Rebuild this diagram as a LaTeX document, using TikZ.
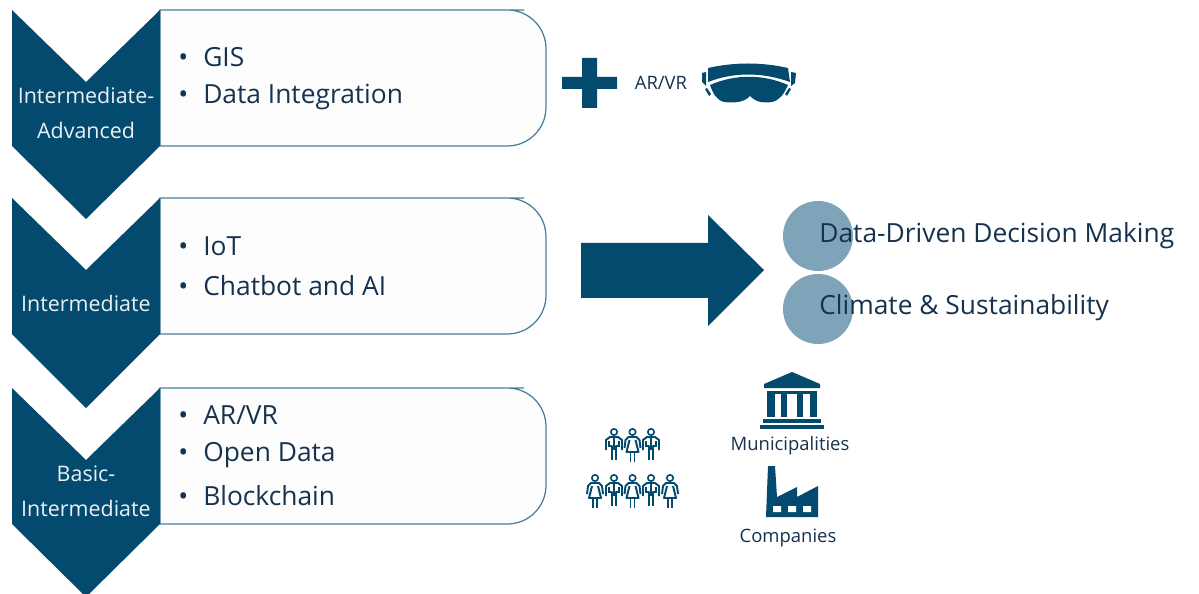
\documentclass[tikz,border=0pt]{standalone}
\usepackage{fontspec}
\setmainfont{Open Sans}
\usetikzlibrary{positioning}
\definecolor{drkblue}{RGB}{4,74,111}
\definecolor{edgeblue}{RGB}{72,125,156}
\definecolor{txtblue}{RGB}{22,50,79}
\definecolor{circblue}{RGB}{127,163,185}
\definecolor{boxfill}{RGB}{253,253,253}
\newcommand{\itm}[1]{\makebox[14.2pt][l]{\textbullet}#1}
\tikzset{
  chevron/.style={fill=drkblue, draw=none},
  itembox/.style={fill=boxfill, draw=edgeblue, line width=.7pt},
  itemtext/.style={anchor=west, inner sep=0pt, text=txtblue, font=\fontsize{15}{15}\selectfont},
  levellabel/.style={align=center, inner sep=0pt, text=white!92!drkblue, font=\fontsize{12.2}{20}\selectfont},
  bigtext/.style={anchor=west, inner sep=0pt, text=txtblue, font=\fontsize{15}{15}\selectfont},
  smalltext/.style={inner sep=0pt, text=txtblue, font=\fontsize{10.5}{12}\selectfont},
  icon/.style={fill=drkblue, draw=none},
  man/.pic={
    \draw [drkblue, line width=.9pt] (0,-17) circle (3.2);
    \draw [drkblue, line width=1.1pt, line join=round] (-2,11) -- (-2,-3) -- (-6,-3) (2,11) -- (2,-3) -- (6,-3);
    \draw [drkblue, line width=1.1pt, line join=round] (-8,1) -- (-8,-9) -- (-4,-12) -- (4,-12) -- (8,-9) -- (8,1);
    \draw [drkblue, line width=1.1pt] (-5,-8) -- (-5,-2) (5,-8) -- (5,-2);
    \draw [drkblue, line width=1.1pt] (0,-12) -- (0,1);
  },
  woman/.pic={
    \draw [drkblue, line width=.9pt] (0,-17) circle (3.2);
    \draw [drkblue, line width=1.1pt, line join=round] (-8,-1) -- (-7,-9) -- (-4,-12) -- (4,-12) -- (7,-9) -- (8,-1);
    \draw [drkblue, line width=1.1pt, line join=round] (-3,-9) -- (-6,3) -- (6,3) -- (3,-9);
    \draw [drkblue, line width=1.1pt] (-2,3) -- (-2,13) (2,3) -- (2,13);
  }
}
\begin{document}
\begin{tikzpicture}[x=0.02cm,y=-0.02cm]
     \useasboundingbox (0,0) rectangle (1199,594);
     \fill [white] (0,0) rectangle (1199,594);

     % three levels
     \draw [itembox] (160,10) -- (524,10) [rounded corners=22pt] -- (546,10) -- (546,146) [sharp corners] -- (160,146) -- cycle;
     \fill [chevron] (12,10) -- (86,82) -- (160,10) -- (160,146) -- (86,219) -- (12,146) -- cycle;
     \node (gis) [itemtext] at (178,57) {\itm{GIS}};
     \node (integration) [itemtext] at (178,97) {\itm{Data Integration}};
     \node (advanced) [levellabel] at (86,113) {Intermediate-\\Advanced};

     \draw [itembox] (160,198) -- (524,198) [rounded corners=22pt] -- (546,198) -- (546,334) [sharp corners] -- (160,334) -- cycle;
     \fill [chevron] (12,198) -- (86,270) -- (160,198) -- (160,334) -- (86,408) -- (12,334) -- cycle;
     \node (iot) [itemtext] at (178,246) {\itm{IoT}};
     \node (chatbot) [itemtext] at (178,286) {\itm{Chatbot and AI}};
     \node (intermediate) [levellabel] at (86,303) {Intermediate};

     \draw [itembox] (160,388) -- (524,388) [rounded corners=22pt] -- (546,388) -- (546,524) [sharp corners] -- (160,524) -- cycle;
     \fill [chevron] (12,388) -- (86,460) -- (160,388) -- (160,524) -- (86,597) -- (12,524) -- cycle;
     \node (arvr) [itemtext] at (178,415) {\itm{AR/VR}};
     \node (opendata) [itemtext] at (178,455) {\itm{Open Data}};
     \node (blockchain) [itemtext] at (178,496) {\itm{Blockchain}};
     \node (basic) [levellabel] at (86,491) {Basic-\\Intermediate};

     % plus and goggles
     \fill [icon] (562,77) -- (582,77) -- (582,58) -- (597,58) -- (597,77) -- (617,77) -- (617,89) -- (597,89) -- (597,108) -- (582,108) -- (582,89) -- (562,89) -- cycle;
     \node (goggletext) [smalltext] at (661,83) {AR/VR};
     \fill [icon] (708,68) .. controls (735,62) and (761,62) .. (788,68) -- (790,82) .. controls (762,72) and (734,72) .. (708,82) -- cycle;
     \fill [icon] (710,85) .. controls (735,74) and (763,74) .. (788,85) .. controls (784,94) and (780,100) .. (772,102) .. controls (764,103) and (757,103) .. (750,96) .. controls (744,103) and (732,103) .. (724,102) .. controls (716,100) and (713,93) .. (710,85) -- cycle;
     \fill [icon] (702,73) -- (706,72) -- (706,86) -- (702,82) -- cycle;
     \fill [icon] (791,72) -- (796,73) -- (795,83) -- (791,86) -- cycle;
     \fill [icon] (705,89) -- (707,88) -- (711,94) -- (709,96) -- cycle;
     \fill [icon] (791,89) -- (789,88) -- (785,94) -- (787,96) -- cycle;

     % big arrow and outcomes
     \fill [icon] (581,243) -- (708,243) -- (708,215) -- (764,270) -- (708,326) -- (708,298) -- (581,298) -- cycle;
     \node (circleone) [circle, fill=circblue, minimum size=1.4cm, inner sep=0pt] at (818,236) {};
     \node (circletwo) [circle, fill=circblue, minimum size=1.4cm, inner sep=0pt] at (818,309) {};
     \node (decision) [bigtext] at (819,236) {Data-Driven Decision Making};
     \node (climate) [bigtext] at (819,308) {Climate \& Sustainability};

     % people
     \pic at (614,449) {man};
     \pic at (632.5,449) {woman};
     \pic at (651,449) {man};
     \pic at (595,495) {woman};
     \pic at (614,495) {man};
     \pic at (632.5,495) {woman};
     \pic at (651,495) {man};
     \pic at (670,495) {woman};

     % building
     \fill [icon] (792,372) -- (820,384) -- (820,388) -- (764,388) -- (764,384) -- cycle;
     \fill [icon] (767,391) rectangle (817,394);
     \fill [icon] (767,392) rectangle (775,417);
     \fill [icon] (781,392) rectangle (787,417);
     \fill [icon] (797,392) rectangle (803,417);
     \fill [icon] (810,392) rectangle (817,417);
     \fill [icon] (763,419) rectangle (821,423);
     \fill [icon] (760,425) rectangle (824,429);
     \node (municipalities) [smalltext] at (790,446) {Municipalities};

     % factory
     \fill [icon] (768,466) -- (775,466) -- (777,497) -- (797,487) -- (797,497) -- (818,486) -- (818,517) -- (766,517) -- cycle;
     \fill [white] (773,506) rectangle (781,512) (788,506) rectangle (796,512) (803,506) rectangle (811,512);
     \node (companies) [smalltext] at (788,538) {Companies};
\end{tikzpicture}
\end{document}
